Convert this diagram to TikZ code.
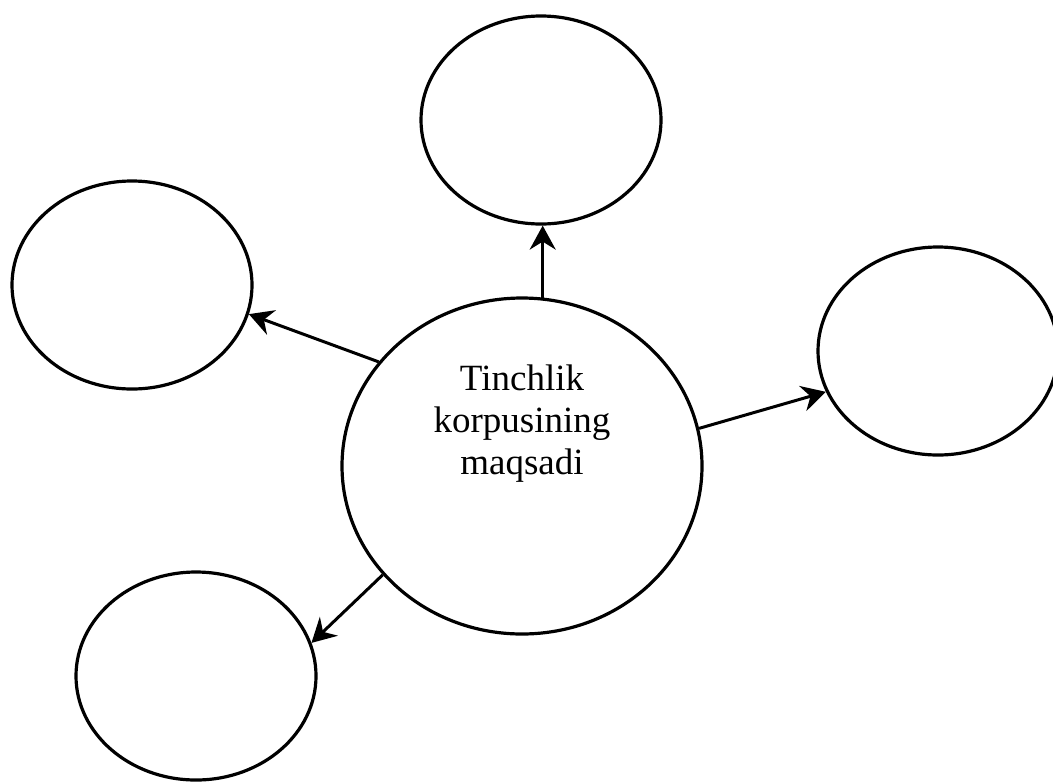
\documentclass[tikz,border=0pt]{standalone}
\usepackage{fontspec}
\setmainfont{Liberation Serif}
\usetikzlibrary{shapes.geometric,arrows.meta}
\begin{document}
\begin{tikzpicture}[x=0.5pt,y=-0.5pt]

\tikzstyle{bubble}=[draw, ellipse, line width=1.6pt, inner sep=0pt, minimum width=120pt, minimum height=104pt]
\tikzstyle{link}=[line width=1.5pt, -{Stealth[length=12pt,width=13pt,inset=4pt]}]

\useasboundingbox (0,0) rectangle (1053,782);

\node[bubble, minimum width=180pt, minimum height=168pt] (goal) at (522,466) {};
\node[font=\fontsize{18.5pt}{21pt}\selectfont, align=center] (goaltext) at (522,424) {Tinchlik\\korpusining\\maqsadi};

\node[bubble] (top) at (541,120) {};
\node[bubble] (left) at (132,285) {};
\node[bubble] (right) at (938,351) {};
\node[bubble] (bottom) at (196,676) {};

\draw[link] (goal.83) -- (goal.83 |- top.south);
\draw[link] (goal.144) -- (left.-14);
\draw[link] (goal.12) -- (right.200);
\draw[link] (goal.218) -- (bottom.16);
\end{tikzpicture}
\end{document}
